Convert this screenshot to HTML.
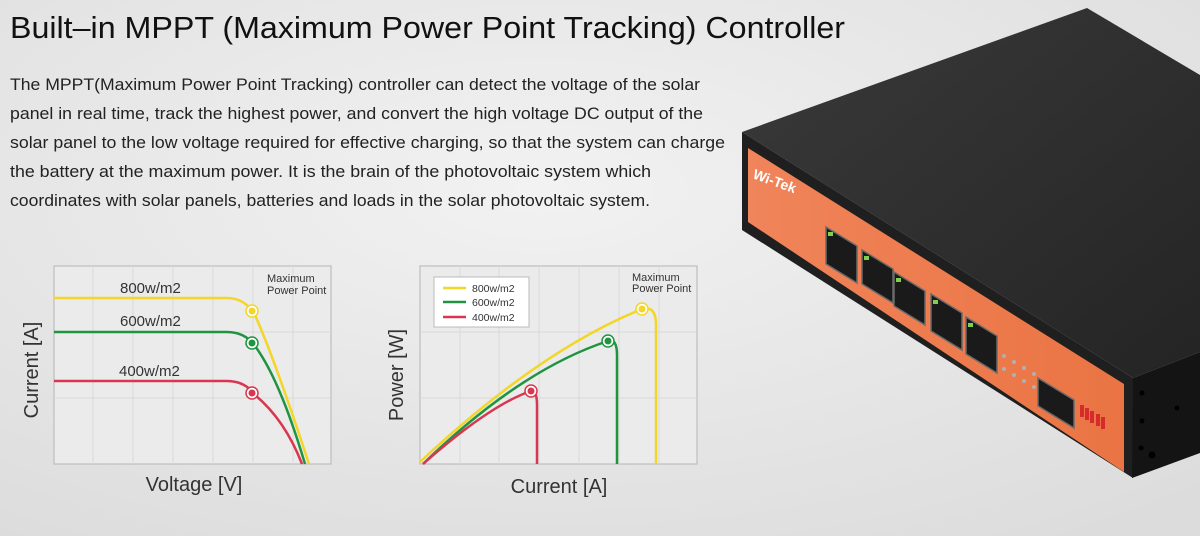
<!DOCTYPE html>
<html><head><meta charset="utf-8"><style>
html,body{margin:0;padding:0;width:1200px;height:536px;overflow:hidden;background:#e9e9e9}
svg{display:block}
text{font-family:"Liberation Sans",sans-serif}
</style></head><body>
<svg width="1200" height="536" viewBox="0 0 1200 536" xmlns="http://www.w3.org/2000/svg">
<defs>
<radialGradient id="bg" cx="0.45" cy="0.35" r="0.8">
<stop offset="0" stop-color="#f2f2f2"/><stop offset="1" stop-color="#dcdcdc"/></radialGradient>
<linearGradient id="top" x1="0" y1="0" x2="1" y2="1">
<stop offset="0" stop-color="#3a3a3a"/><stop offset="1" stop-color="#242424"/></linearGradient>
<linearGradient id="or" x1="0" y1="0" x2="1" y2="0">
<stop offset="0" stop-color="#f0845a"/><stop offset="1" stop-color="#ea7443"/></linearGradient>
</defs>
<rect width="1200" height="536" fill="url(#bg)"/>
<text x="10" y="38" font-size="31" fill="#111" textLength="835" lengthAdjust="spacingAndGlyphs">Built–in MPPT (Maximum Power Point Tracking) Controller</text>
<g font-size="17" fill="#222">
<text x="10" y="90" textLength="690" lengthAdjust="spacingAndGlyphs">The MPPT(Maximum Power Point Tracking) controller can detect the voltage of the solar</text>
<text x="10" y="119" textLength="693" lengthAdjust="spacingAndGlyphs">panel in real time, track the highest power, and convert the high voltage DC output of the</text>
<text x="10" y="148" textLength="715" lengthAdjust="spacingAndGlyphs">solar panel to the low voltage required for effective charging, so that the system can charge</text>
<text x="10" y="177" textLength="641" lengthAdjust="spacingAndGlyphs">the battery at the maximum power. It is the brain of the photovoltaic system which</text>
<text x="10" y="206" textLength="640" lengthAdjust="spacingAndGlyphs">coordinates with solar panels, batteries and loads in the solar photovoltaic system.</text>
</g>

<!-- chart 1 -->
<rect x="54" y="266" width="277" height="198" fill="#ebebeb" stroke="#bdbdbd" stroke-width="1.2"/>
<g stroke="#d8d8d8" stroke-width="1">
<line x1="93" y1="266" x2="93" y2="464"/><line x1="133" y1="266" x2="133" y2="464"/><line x1="173" y1="266" x2="173" y2="464"/><line x1="213" y1="266" x2="213" y2="464"/><line x1="253" y1="266" x2="253" y2="464"/><line x1="293" y1="266" x2="293" y2="464"/>
<line x1="54" y1="332" x2="331" y2="332"/><line x1="54" y1="398" x2="331" y2="398"/>
</g>
<g fill="none" stroke-width="2.5">
<path d="M54 298 L227 298 Q245 298 255 315 Q275 360 309 464" stroke="#f2d629"/>
<path d="M54 332 L227 332 Q245 332 255 346 Q280 380 305 464" stroke="#1f9440"/>
<path d="M54 381 L227 381 Q245 381 255 395 Q285 420 302 464" stroke="#d8384f"/>
</g>
<circle cx="252" cy="311" r="6" fill="#fff" stroke="#f2d629" stroke-width="1.5"/><circle cx="252" cy="311" r="3.5" fill="#f2d629"/>
<circle cx="252" cy="343" r="6" fill="#fff" stroke="#1f9440" stroke-width="1.5"/><circle cx="252" cy="343" r="3.5" fill="#1f9440"/>
<circle cx="252" cy="393" r="6" fill="#fff" stroke="#d8384f" stroke-width="1.5"/><circle cx="252" cy="393" r="3.5" fill="#d8384f"/>
<g font-size="15" fill="#333">
<text x="120" y="293">800w/m2</text><text x="120" y="326">600w/m2</text><text x="119" y="376">400w/m2</text>
</g>
<g font-size="11" fill="#333"><text x="267" y="282">Maximum</text><text x="267" y="294">Power Point</text></g>
<text x="38" y="370" font-size="20" fill="#333" text-anchor="middle" transform="rotate(-90 38 370)">Current [A]</text>
<text x="194" y="491" font-size="20" fill="#333" text-anchor="middle">Voltage [V]</text>

<!-- chart 2 -->
<rect x="420" y="266" width="277" height="198" fill="#ebebeb" stroke="#bdbdbd" stroke-width="1.2"/>
<g stroke="#d8d8d8" stroke-width="1">
<line x1="460" y1="266" x2="460" y2="464"/><line x1="499" y1="266" x2="499" y2="464"/><line x1="539" y1="266" x2="539" y2="464"/><line x1="579" y1="266" x2="579" y2="464"/><line x1="619" y1="266" x2="619" y2="464"/><line x1="659" y1="266" x2="659" y2="464"/>
<line x1="420" y1="332" x2="697" y2="332"/><line x1="420" y1="398" x2="697" y2="398"/>
</g>
<rect x="434" y="277" width="95" height="50" fill="#fff" stroke="#bbb"/>
<g stroke-width="2.5">
<line x1="443" y1="288" x2="466" y2="288" stroke="#f2d629"/>
<line x1="443" y1="302" x2="466" y2="302" stroke="#1f9440"/>
<line x1="443" y1="317" x2="466" y2="317" stroke="#d8384f"/>
</g>
<g font-size="10.5" fill="#333"><text x="472" y="292">800w/m2</text><text x="472" y="306">600w/m2</text><text x="472" y="321">400w/m2</text></g>
<g fill="none" stroke-width="2.5">
<path d="M420 462 Q540 350 642 309 Q656 305 656 325 L656 464" stroke="#f2d629"/>
<path d="M423 464 Q520 370 608 341 Q617 338 617 355 L617 464" stroke="#1f9440"/>
<path d="M423 464 Q490 405 531 391 Q537 390 537 405 L537 464" stroke="#d8384f"/>
</g>
<circle cx="642" cy="309" r="6" fill="#fff" stroke="#f2d629" stroke-width="1.5"/><circle cx="642" cy="309" r="3.5" fill="#f2d629"/>
<circle cx="608" cy="341" r="6" fill="#fff" stroke="#1f9440" stroke-width="1.5"/><circle cx="608" cy="341" r="3.5" fill="#1f9440"/>
<circle cx="531" cy="391" r="6" fill="#fff" stroke="#d8384f" stroke-width="1.5"/><circle cx="531" cy="391" r="3.5" fill="#d8384f"/>
<g font-size="11" fill="#333"><text x="632" y="281">Maximum</text><text x="632" y="292">Power Point</text></g>
<text x="403" y="375" font-size="20" fill="#333" text-anchor="middle" transform="rotate(-90 403 375)">Power [W]</text>
<text x="559" y="493" font-size="20" fill="#333" text-anchor="middle">Current [A]</text>

<!-- switch -->
<polygon points="742,132 1087,8 1200,75 1200,352 1133,378" fill="url(#top)"/>
<polygon points="742,132 1133,378 1133,478 742,230" fill="#1f1f1f"/>
<polygon points="1133,378 1200,352 1200,453 1132,478" fill="#141414"/>
<polygon points="748,148 1124,384 1124,472 748,222" fill="url(#or)"/>
<text x="752" y="178" font-size="14" font-weight="bold" fill="#fff" transform="rotate(20 752 178)">Wi-Tek</text>
<g fill="#1a1a1a" stroke="#6b6b6b" stroke-width="1.5">
<polygon points="826,227 857,246 857,283 826,264"/>
<polygon points="862,250 893,269 893,303 862,284"/>
<polygon points="894,272 925,291 925,325 894,306"/>
<polygon points="931,294 962,313 962,350 931,331"/>
<polygon points="966,317 997,336 997,373 966,354"/>
<polygon points="1038,378 1074,400 1074,428 1038,406"/>
</g>
<g fill="#7fd04a"><rect x="828" y="232" width="5" height="4"/><rect x="864" y="256" width="5" height="4"/><rect x="896" y="278" width="5" height="4"/><rect x="933" y="300" width="5" height="4"/><rect x="968" y="323" width="5" height="4"/></g>
<g fill="#b0b0b0"><circle cx="1004" cy="356" r="2"/><circle cx="1014" cy="362" r="2"/><circle cx="1024" cy="368" r="2"/><circle cx="1034" cy="374" r="2"/><circle cx="1004" cy="369" r="2"/><circle cx="1014" cy="375" r="2"/><circle cx="1024" cy="381" r="2"/><circle cx="1034" cy="387" r="2"/></g>
<g fill="#d72a2a"><rect x="1080" y="405" width="4" height="12"/><rect x="1085" y="408" width="4" height="12"/><rect x="1090" y="411" width="4" height="12"/><rect x="1096" y="414" width="4" height="12"/><rect x="1101" y="417" width="4" height="12"/></g>
<g fill="#000"><circle cx="1142" cy="393" r="2.5"/><circle cx="1142" cy="421" r="2.5"/><circle cx="1141" cy="448" r="2.5"/><circle cx="1177" cy="408" r="2.5"/><circle cx="1152" cy="455" r="3.5"/></g>
</svg>
</body></html>
